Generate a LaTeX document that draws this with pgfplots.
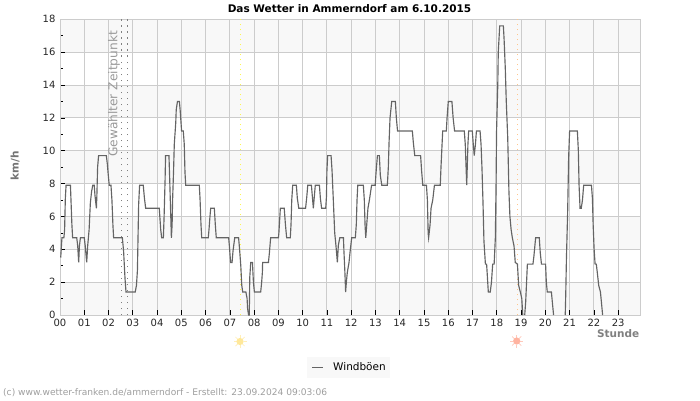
\documentclass[border=0pt]{standalone}
\usepackage{fontspec}
\setmainfont{DejaVu Sans}
\usepackage{pgfplots}
\pgfplotsset{compat=1.18}

\definecolor{band}{HTML}{F8F8F8}
\definecolor{gridc}{HTML}{CCCCCC}
\definecolor{linec}{HTML}{646464}
\definecolor{sunup}{HTML}{FFE89A}
\definecolor{sundown}{HTML}{FFB3A0}

\newcommand{\sun}[3]{% x, y, colour
  \foreach \a in {0,45,...,315}
    \draw[#3!70!white, line width=0.7pt] (#1pt,#2pt) ++(\a:3.5pt) -- ++(\a:3pt);
  \fill[#3] (#1pt,#2pt) circle (3.6pt);
}

\begin{document}
\begin{tikzpicture}
\begin{axis}[
    at={(60pt,85pt)}, anchor=south west,
    scale only axis,
    width=580.7pt, height=295.7pt,
    set layers, clip mode=individual,
    xmin=0, xmax=23.93, ymin=0, ymax=18,
    xtick={0,1,...,23},
    xticklabels={00,01,02,03,04,05,06,07,08,09,10,11,12,13,14,15,16,17,18,19,20,21,22,23},
    ytick={0,2,...,18},
    minor y tick num=1,
    tick align=inside,
    major tick length=5pt, minor tick length=3pt,
    tick style={black, line width=0.7pt},
    xtick pos=bottom, ytick pos=left,
    grid=major,
    grid style={gridc, line width=1pt},
    axis line style={gridc, line width=1pt},
    ticklabel style={font=\fontsize{10}{12}\selectfont, text=black!85},
    /pgf/number format/assume math mode=true,
    xticklabel style={yshift=-1pt},
    yticklabel style={xshift=-1pt},
    unbounded coords=jump,
    legend style={at={(0.4253,-0.142)}, anchor=north west, draw=none, fill=band,
        font=\fontsize{10.5}{12.5}\selectfont, inner xsep=2pt, inner ysep=3.5pt},
    legend image code/.code={
        \draw[linec, line width=1.8pt] (0pt,0pt) -- (11pt,0pt);
        \path[draw=none] (-3pt,0pt) -- (19pt,0pt);},
]
% background bands
\addplot[forget plot, on layer=axis background, fill=band, draw=none] coordinates {(0,16)(23.93,16)(23.93,18)(0,18)} -- cycle;
\addplot[forget plot, on layer=axis background, fill=band, draw=none] coordinates {(0,12)(23.93,12)(23.93,14)(0,14)} -- cycle;
\addplot[forget plot, on layer=axis background, fill=band, draw=none] coordinates {(0,8)(23.93,8)(23.93,10)(0,10)} -- cycle;
\addplot[forget plot, on layer=axis background, fill=band, draw=none] coordinates {(0,4)(23.93,4)(23.93,6)(0,6)} -- cycle;
\addplot[forget plot, on layer=axis background, fill=band, draw=none] coordinates {(0,0)(23.93,0)(23.93,2)(0,2)} -- cycle;
% selected time, sunrise, sunset
\addplot[forget plot, gray, line width=0.8pt, dash pattern=on 1.5pt off 4.5pt] coordinates {(2.53,0)(2.53,18)};
\addplot[forget plot, gray, line width=0.8pt, dash pattern=on 1.5pt off 4.5pt] coordinates {(2.79,0)(2.79,18)};
\addplot[forget plot, yellow!70!white, line width=0.8pt, dash pattern=on 1pt off 4pt] coordinates {(7.445,0)(7.445,18)};
\addplot[forget plot, orange!45!white, line width=0.8pt, dash pattern=on 1pt off 4pt] coordinates {(18.86,0)(18.86,18)};
% gusts
\addplot[linec, line width=1.15pt] coordinates {
(0.03,3.5)(0.08,4.7)(0.16,4.7)(0.19,5.2)(0.22,7.1)(0.25,7.9)(0.43,7.9)(0.45,7.1)(0.49,5.5)(0.52,4.7)
(0.69,4.7)(0.73,4.2)(0.77,3.2)(0.80,4.2)(0.84,4.7)(1.00,4.7)(1.04,4.2)(1.10,3.2)(1.14,4.2)(1.20,5.2)
(1.25,6.8)(1.30,7.5)(1.35,7.9)(1.41,7.9)(1.44,7.3)(1.50,6.5)(1.52,7.3)(1.55,9)(1.59,9.7)(1.91,9.7)
(1.95,9.2)(1.99,8.5)(2.03,7.9)(2.10,7.9)(2.14,7)(2.18,5.5)(2.21,4.7)(2.57,4.7)(2.62,3.9)(2.68,2.2)
(2.72,1.4)(3.10,1.4)(3.15,1.8)(3.19,2.7)(3.21,4.3)(3.24,6.7)(3.28,7.9)(3.43,7.9)(3.48,7.1)(3.53,6.5)
(4.09,6.5)(4.15,5.2)(4.19,4.7)(4.26,4.7)(4.29,6)(4.33,8.2)(4.35,9.7)(4.49,9.7)(4.52,8.3)(4.59,4.7)
(4.62,5.5)(4.64,7.0)(4.68,8.8)(4.71,10.4)(4.77,11.7)(4.79,12.5)(4.84,13)(4.92,13)(4.95,12.5)(5.01,11.2)
(5.08,11.2)(5.12,10.4)(5.15,8.7)(5.18,7.9)(5.74,7.9)(5.77,7.1)(5.81,5.5)(5.84,4.7)(6.11,4.7)(6.14,5.2)
(6.18,6.0)(6.21,6.5)(6.36,6.5)(6.40,5.5)(6.44,4.7)(6.95,4.7)(6.98,4.2)(7.03,3.2)(7.09,3.2)(7.13,3.9)
(7.20,4.7)(7.36,4.7)(7.40,4)(7.45,3)(7.49,1.8)(7.53,1.4)(7.66,1.4)(7.71,1.0)(7.73,0.4)(7.77,0)
(7.80,0)(7.82,2.3)(7.86,3.2)(7.93,3.2)(7.97,2.0)(8.01,1.4)(8.27,1.4)(8.31,2)(8.34,2.6)(8.35,3.2)
(8.59,3.2)(8.63,3.8)(8.68,4.7)(9.00,4.7)(9.02,5)(9.08,6.5)(9.24,6.5)(9.29,5.5)(9.34,4.7)(9.49,4.7)
(9.52,5.5)(9.55,7)(9.59,7.9)(9.74,7.9)(9.78,7.1)(9.84,6.5)(10.12,6.5)(10.17,7.2)(10.21,7.9)(10.36,7.9)
(10.40,7.2)(10.44,6.5)(10.48,7.2)(10.52,7.9)(10.69,7.9)(10.73,7.1)(10.78,6.5)(10.95,6.5)(10.98,7.2)(11.00,8.8)
(11.03,9.7)(11.17,9.7)(11.21,8.8)(11.26,7.1)(11.32,5)(11.37,4.25)(11.43,3.2)(11.47,4.25)(11.53,4.7)(11.68,4.7)
(11.70,3.9)(11.74,2.6)(11.77,1.4)(11.80,2)(11.84,2.6)(11.91,3.2)(11.95,3.8)(12.02,4.7)(12.17,4.7)(12.21,5.5)
(12.24,7)(12.27,7.9)(12.50,7.9)(12.54,7.0)(12.57,5.5)(12.60,4.7)(12.64,5.5)(12.69,6.5)(12.75,7.0)(12.84,7.9)
(12.99,7.9)(13.02,8.6)(13.08,9.7)(13.16,9.7)(13.20,8.5)(13.26,7.9)(13.49,7.9)(13.53,9)(13.56,10.5)(13.60,12)
(13.67,13)(13.82,13)(13.86,12)(13.91,11.2)(14.52,11.2)(14.56,10.5)(14.62,9.7)(14.86,9.7)(14.90,8.8)(14.95,7.9)
(15.10,7.9)(15.14,7)(15.17,5)(15.19,4.7)(15.25,5.5)(15.29,6.5)(15.36,7)(15.43,7.9)(15.67,7.9)(15.70,9)
(15.77,11.2)(15.92,11.2)(15.95,12)(16.00,13)(16.15,13)(16.20,12)(16.26,11.2)(16.66,11.2)(16.70,10.4)(16.76,7.9)
(16.81,10.4)(16.84,11.2)(16.99,11.2)(17.03,10.4)(17.07,9.7)(17.12,10.4)(17.16,11.2)(17.31,11.2)(17.35,10.4)(17.39,8.9)
(17.43,6.9)(17.47,4.5)(17.53,3.1)(17.58,3.1)(17.65,1.4)(17.73,1.4)(17.78,2)(17.83,3.1)(17.89,3.1)(17.94,4.7)
(17.97,8)(17.99,11.2)(18.04,14)(18.06,16)(18.12,17.6)(18.27,17.6)(18.30,16.8)(18.35,15)(18.39,13)(18.45,10.8)
(18.50,7.5)(18.54,6)(18.59,5.2)(18.64,4.7)(18.71,4.2)(18.76,3.2)(18.85,3.1)(18.90,1.8)(18.97,1.4)(19.03,1)
(19.07,0)(19.11,nan)(19.15,0)(19.19,0.8)(19.26,3.1)(19.49,3.1)(19.53,3.6)(19.60,4.7)(19.75,4.7)(19.79,3.8)
(19.84,3.1)(20.01,3.1)(20.04,2)(20.08,1.4)(20.25,1.4)(20.30,0.6)(20.34,0)(20.60,nan)(20.82,0)(20.84,1.2)
(20.87,3.5)(20.92,6.3)(20.96,9.6)(21.00,11.2)(21.32,11.2)(21.36,10)(21.39,7.9)(21.43,6.5)(21.48,6.5)(21.53,7)
(21.58,7.9)(21.90,7.9)(21.94,7.1)(21.97,5.5)(22.01,4)(22.05,3.1)(22.10,3.1)(22.14,2.6)(22.20,1.8)(22.27,1.4)
(22.31,0.8)(22.36,0)
};
\addlegendentry{Windböen\hspace{10pt}}
\end{axis}

\node[font=\bfseries\fontsize{10.5}{12}\selectfont, text=black] at (349.5pt,391.5pt) {Das Wetter in Ammerndorf am 6.10.2015};
\node[rotate=90, font=\bfseries\fontsize{10.5}{12}\selectfont, text=black!55] at (15pt,234pt) {km/h};
\node[anchor=east, inner sep=0pt, font=\bfseries\fontsize{10.5}{12}\selectfont, text=black!50] at (639.5pt,66pt) {Stunde};
\node[rotate=90, font=\fontsize{12.2}{14}\selectfont, text=black!40] at (114pt,306pt) {Gewählter Zeitpunkt};
\node[anchor=west, inner sep=0pt, font=\fontsize{9.1}{11}\selectfont, text=black!38] at (3pt,7pt) {(c) www.wetter-franken.de/ammerndorf - Erstellt: 23.09.2024 09:03:06};
\sun{240}{58.5}{sunup}
\sun{516.7}{59}{sundown}
\pgfresetboundingbox
\path[use as bounding box] (0,0) rectangle (700pt,400pt);
\end{tikzpicture}
\end{document}
